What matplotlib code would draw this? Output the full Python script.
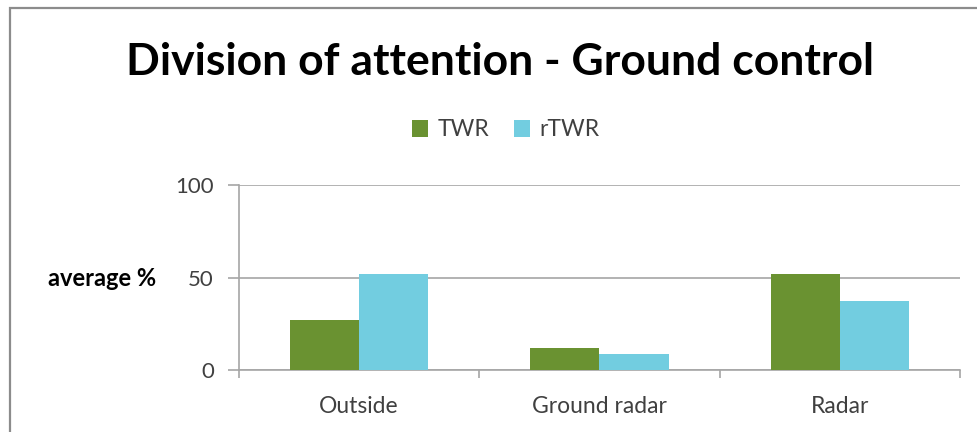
import matplotlib.pyplot as plt
from matplotlib.patches import Rectangle
import numpy as np

# data
categories = ['Outside', 'Ground radar', 'Radar']
twr = [27, 12, 52]
rtwr = [52, 8.6, 37.5]
yticks = [0, 50, 100]

plt.rcParams['font.family'] = ['Lato', 'DejaVu Sans']

W, H = 978, 432
fig = plt.figure(figsize=(W / 100, H / 100), dpi=100)

# outer chart border (cropped on the right and bottom)
fig.patches.append(Rectangle((10 / W, -0.2), 1.5, (H - 7.5) / H + 0.2,
                             transform=fig.transFigure, fill=False,
                             edgecolor='#8c8c8c', lw=1.6))

ax = fig.add_axes([239 / W, (H - 370) / H, 721 / W, 185 / H])

x = np.arange(len(categories))
w = 0.2875
ax.bar(x - w / 2, twr, w, color='#6a9231', label='TWR', zorder=3)
ax.bar(x + w / 2, rtwr, w, color='#72cde0', label='rTWR', zorder=3)

ax.set_xlim(-0.5, 2.5)
ax.set_ylim(0, 100)
ax.set_yticks(yticks)
ax.yaxis.grid(True, color='#a6a6a6', lw=1.2, zorder=0)
for s in ['top', 'right']:
    ax.spines[s].set_visible(False)
ax.spines['left'].set_color('#a6a6a6')
ax.spines['bottom'].set_color('#a6a6a6')
ax.spines['left'].set_linewidth(1.2)
ax.spines['bottom'].set_linewidth(1.2)

ax.set_xticks(x)
ax.set_xticklabels(categories)
ax.set_xticks([-0.5, 0.5, 1.5, 2.5], minor=True)
ax.tick_params(axis='x', which='major', length=0, pad=19, labelsize=16.5,
               labelcolor='#404040')
ax.tick_params(axis='x', which='minor', length=6, color='#a6a6a6', width=1.2)
ax.tick_params(axis='y', length=8, color='#a6a6a6', width=1.2, pad=10,
               labelsize=16, labelcolor='#404040')

fig.text(500 / W, 1 - 62 / H, 'Division of attention - Ground control',
         ha='center', va='center', fontsize=32, fontweight='bold', color='black')
fig.text(48 / W, 1 - 278 / H, 'average %', ha='left', va='center',
         fontsize=17, fontweight='bold', color='black')

fig.legend(loc='center', bbox_to_anchor=(506 / W, 1 - 130 / H), ncol=2,
           frameon=False, fontsize=16.5, handlelength=0.7, handleheight=0.7,
           handletextpad=0.4, columnspacing=1.1, labelcolor='#404040')

fig.savefig('out.png', dpi=100, facecolor='white')
